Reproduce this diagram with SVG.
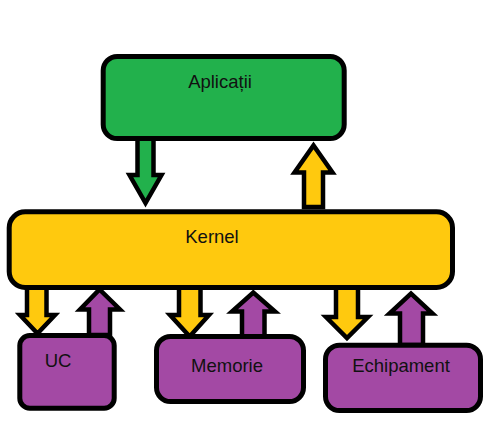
<svg xmlns="http://www.w3.org/2000/svg" width="492" height="442" viewBox="0 0 492 442">
<style>
.box{stroke:#000;stroke-width:5}
.arr{stroke:#000;stroke-width:4.5;stroke-linejoin:miter;stroke-miterlimit:10}
.g{fill:#22b14c}.y{fill:#ffc90e}.p{fill:#a349a4}
text{font-family:"Liberation Sans",Arial,sans-serif;font-size:18.5px;fill:#111;text-anchor:middle}
</style>
<rect width="492" height="442" fill="#fff"/>
<g id="connectors">
<polygon class="arr g" points="137.5,135 153.5,135 153.5,175 161.5,175 145.5,203 129.5,175 137.5,175"/>
<polygon class="arr y" points="304,207 323,207 323,172.5 332.5,172.5 313.5,145.5 294.5,172.5 304,172.5"/>
<polygon class="arr y" points="27,285 46.5,285 46.5,315 55,315 37.5,333.5 20,315 27,315"/>
<polygon class="arr p" points="89,335 110,335 110,309.5 120,309.5 99.5,289.5 80,309.5 89,309.5"/>
<polygon class="arr y" points="179,285 200.5,285 200.5,315 209,315 189.7,336.5 170,315 179,315"/>
<polygon class="arr p" points="242,338 264.5,338 264.5,311.5 275,311.5 253.3,292.5 232,311.5 242,311.5"/>
<polygon class="arr y" points="336,285 358,285 358,317 368,317 347,338 326,317 336,317"/>
<polygon class="arr p" points="400,345 423,345 423,313.5 432.5,313.5 411,293.5 389.5,313.5 400,313.5"/>
</g>
<g id="aplicatii">
<rect class="box g" x="103.2" y="56.5" width="241" height="82" rx="14"/>
<text x="220" y="88">Aplicații</text>
</g>
<g id="kernel">
<rect class="box y" x="9.2" y="211.8" width="443.3" height="75.7" rx="16"/>
<text x="212" y="243">Kernel</text>
</g>
<g id="uc">
<rect class="box p" x="19.8" y="335.5" width="94.4" height="72.7" rx="10"/>
<text x="58" y="367">UC</text>
</g>
<g id="memorie">
<rect class="box p" x="156.5" y="336.5" width="147" height="65" rx="14"/>
<text x="227" y="372">Memorie</text>
</g>
<g id="echipament">
<rect class="box p" x="325.5" y="345.2" width="155" height="65.3" rx="14"/>
<text x="401" y="372">Echipament</text>
</g>
</svg>
